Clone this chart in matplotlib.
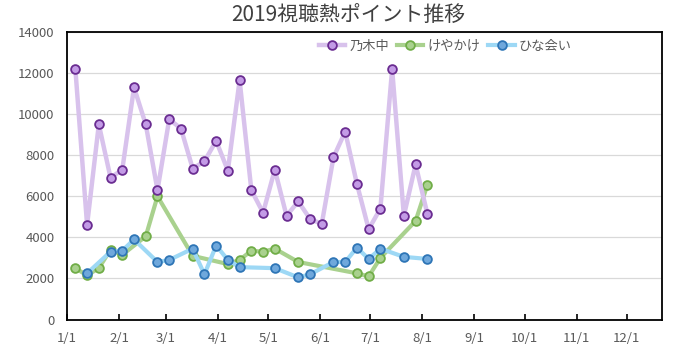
#!/usr/bin/env python3

"""2019 viewing-heat points per week for three variety shows."""

import pandas as pd
import matplotlib
matplotlib.use("Agg")
import matplotlib.pyplot as plt
import matplotlib.dates as mdates

plt.rcParams['font.family'] = ['Noto Sans CJK JP', 'DejaVu Sans']

# weekly dates (Sundays) from 2019-01-06
weeks = pd.date_range("2019-01-06", periods=31, freq="7D")

nogi_weeks = list(range(31))
nogi = [12200, 4600, 9500, 6900, 7300, 11300, 9500, 6300, 9750, 9300,
        7350, 7700, 8700, 7250, 11650, 6300, 5200, 7300, 5050, 5750,
        4900, 4650, 7900, 9150, 6600, 4400, 5400, 12200, 5050, 7550, 5150]

keya_weeks = [0, 1, 2, 3, 4, 6, 7, 10, 13, 14, 15, 16, 17, 19, 24, 25, 26, 29, 30]
keya = [2500, 2150, 2500, 3400, 3150, 4050, 6000, 3100, 2700, 2900,
        3350, 3300, 3450, 2800, 2250, 2100, 3000, 4800, 6550]

hina_weeks = [1, 3, 4, 5, 7, 8, 10, 11, 12, 13, 14, 17, 19, 20, 22, 23, 24, 25, 26, 28, 30]
hina = [2250, 3300, 3350, 3900, 2800, 2900, 3450, 2200, 3600, 2900, 2550,
        2500, 2050, 2200, 2800, 2800, 3500, 2950, 3450, 3050, 2950]

labels = ["乃木中", "けやかけ", "ひな会い"]

fig = plt.figure(figsize=(6.8, 3.52), dpi=100)
ax = fig.add_axes([0.0985, 0.0923, 0.875, 0.8168])

ax.plot(weeks[keya_weeks], keya, color='#A9D18E', lw=3, marker='o', ms=6.3,
        mfc='#A9D18E', mec='#70AD47', mew=1.3, label=labels[1], zorder=3)
ax.plot(weeks[hina_weeks], hina, color='#9DD8F5', lw=3, marker='o', ms=6.3,
        mfc='#6FA8DC', mec='#2E75B6', mew=1.3, label=labels[2], zorder=4)
ax.plot(weeks[nogi_weeks], nogi, color='#D8C2EC', lw=3.2, marker='o', ms=6.3,
        mfc='#C39BE6', mec='#6A2C91', mew=1.3, label=labels[0], zorder=5)

ax.set_ylim(0, 14000)
ax.set_yticks(range(0, 14001, 2000))
ax.set_xlim(pd.Timestamp("2019-01-01"), pd.Timestamp("2019-12-22"))
ax.xaxis.set_major_locator(mdates.MonthLocator())
ax.xaxis.set_major_formatter(plt.FuncFormatter(
    lambda v, p: f"{mdates.num2date(v).month}/{mdates.num2date(v).day}"))

ax.grid(axis='y', color='#D9D9D9', lw=0.9, zorder=0)
ax.set_axisbelow(True)
for s in ax.spines.values():
    s.set_color('black')
    s.set_linewidth(1.3)
ax.tick_params(axis='y', length=0, pad=9, labelsize=9.5, labelcolor='#595959')
ax.tick_params(axis='x', direction='in', length=4, width=1.2, pad=9,
               labelsize=9.5, labelcolor='#595959')

fig.text(0.512, 0.955, "2019視聴熱ポイント推移", ha='center', va='center',
         fontsize=15, color='#404040')

h, l = ax.get_legend_handles_labels()
order = [2, 0, 1]
fig.legend([h[i] for i in order], [l[i] for i in order], ncol=3,
           loc='center', bbox_to_anchor=(0.655, 0.868), frameon=False,
           fontsize=9.5, labelcolor='#595959', handlelength=2.0,
           handletextpad=0.3, columnspacing=0.6)

fig.savefig("out.png", dpi=100)
